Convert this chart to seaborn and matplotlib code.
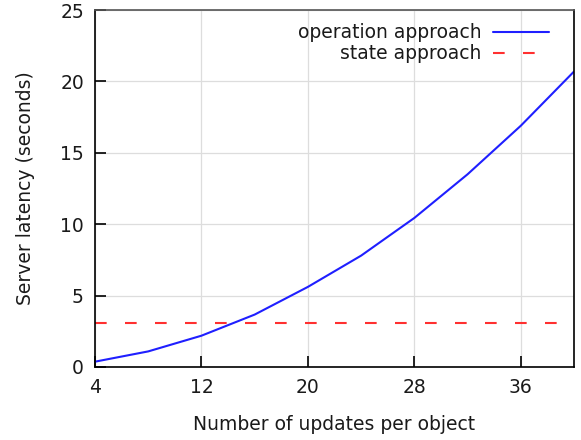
import matplotlib
matplotlib.use("Agg")
import matplotlib.pyplot as plt
import seaborn as sns
import pandas as pd

updates = [4, 8, 12, 16, 20, 24, 28, 32, 36, 40]
operation_latency = [0.37, 1.09, 2.19, 3.67, 5.61, 7.80, 10.44, 13.5, 16.9, 20.7]
state_latency = 3.05
x_ticks = [4, 12, 20, 28, 36]
y_ticks = [0, 5, 10, 15, 20, 25]

sns.set_theme(style="ticks", rc={
    "xtick.direction": "in", "ytick.direction": "in",
    "xtick.bottom": True, "ytick.left": True,
    "xtick.top": False, "ytick.right": False,
})
plt.rcParams["font.family"] = ["DejaVu Sans"]

df = pd.DataFrame({
    "updates": updates + updates,
    "latency": operation_latency + [state_latency] * len(updates),
    "approach": ["operation approach"] * len(updates) + ["state approach"] * len(updates),
})

fig = plt.figure(figsize=(5.81, 4.40), dpi=100)
ax = fig.add_axes([0.1635, 0.166, 0.8245, 0.811])

sns.lineplot(data=df, x="updates", y="latency", hue="approach", style="approach",
             palette={"operation approach": "#1f1fff", "state approach": "#ff3030"},
             dashes={"operation approach": "", "state approach": (5.6, 8.8)},
             linewidth=1.5, ax=ax)

ax.set_xlim(4, 40)
ax.set_ylim(0, 25)
ax.set_xticks(x_ticks)
ax.set_yticks(y_ticks)
ax.grid(True, color="#dddddd", linewidth=0.9)
ax.set_axisbelow(True)
ax.tick_params(axis="both", direction="in", length=8, width=1.2, colors="black",
               labelsize=13.5, pad=8)
for lbl in ax.get_xticklabels() + ax.get_yticklabels():
    lbl.set_color("#1a1a1a")
ax.set_xlabel("Number of updates per object", fontsize=13.5, labelpad=13, color="#1a1a1a")
ax.set_ylabel("Server latency (seconds)", fontsize=13.5, labelpad=18, color="#1a1a1a")

for side in ["left", "bottom", "right"]:
    ax.spines[side].set_visible(True)
    ax.spines[side].set_color("black")
    ax.spines[side].set_linewidth(1.2)
ax.spines["top"].set_visible(True)
ax.spines["top"].set_color("#555555")
ax.spines["top"].set_linewidth(1.2)

leg = ax.legend(loc="upper right", frameon=False, markerfirst=False, fontsize=13.5,
                handlelength=3.0, handletextpad=0.6, borderaxespad=0.3,
                labelspacing=0.1, bbox_to_anchor=(0.975, 1.0))
for t in leg.get_texts():
    t.set_color("#1a1a1a")

fig.savefig("out.png", dpi=100)
